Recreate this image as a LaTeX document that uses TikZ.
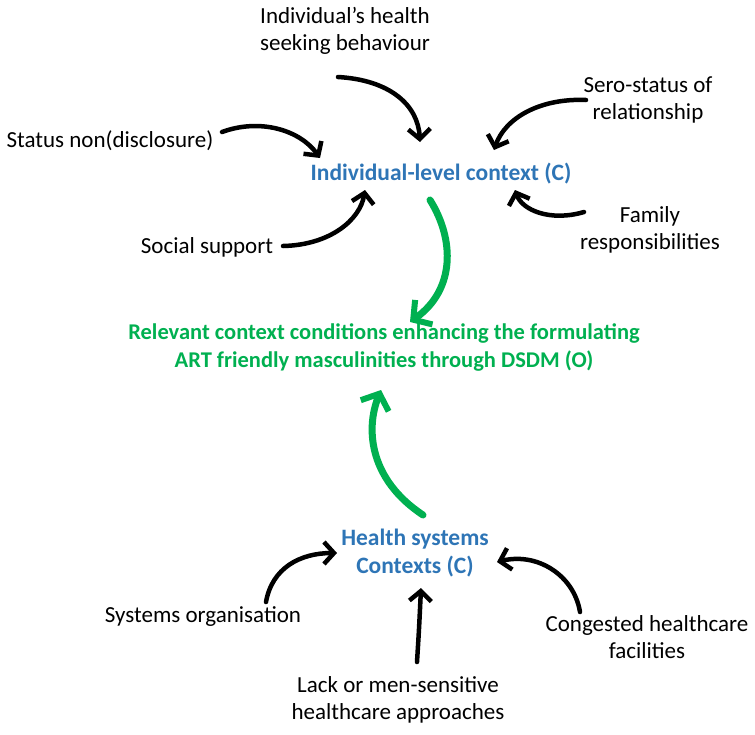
\documentclass[tikz,border=0pt]{standalone}
\usepackage{fontspec}
\setmainfont{Carlito}
\usetikzlibrary{arrows.meta}
\definecolor{ctxblue}{RGB}{46,117,182}
\definecolor{outgreen}{RGB}{0,176,80}
\begin{document}
\begin{tikzpicture}[x=1pt,y=-1pt,
    factor/.style={align=center,font=\fontsize{23}{27}\selectfont},
    ctx/.style={align=center,text=ctxblue,font=\fontsize{23.5}{28}\selectfont\bfseries},
    outcome/.style={align=center,text=outgreen,font=\fontsize{22.5}{28}\selectfont\bfseries},
    pull/.style={line width=4.5pt,line cap=round,-{Straight Barb[length=10pt,width=22pt,line width=4.5pt]}},
    push/.style={line width=7pt,draw=outgreen,line cap=round,-{Straight Barb[length=13pt,width=30pt,line width=6pt]}}]
  \useasboundingbox (0,0) rectangle (755,734);

  \begin{scope}
    \node[factor] (seek) at (345,31) {Individual’s health\\seeking behaviour};
    \node[factor] (sero) at (648,100) {Sero-status of\\relationship};
    \node[factor] (status) at (110,141) {Status non(disclosure)};
    \node[factor] (social) at (207,247) {Social support};
    \node[factor] (family) at (650,230) {Family\\responsibilities};
    \node[ctx] (ctxI) at (441,174) {Individual-level context (C)};
    \node[outcome] (outc) at (384,347) {Relevant context conditions enhancing the formulating\\ART friendly masculinities through DSDM (O)};
    \node[ctx] (ctxH) at (415,553) {Health systems\\Contexts (C)};
    \node[factor] (sysorg) at (203,617) {Systems organisation};
    \node[factor] (congest) at (647,637) {Congested healthcare\\facilities};
    \node[factor] (lack) at (398,700) {Lack or men-sensitive\\healthcare approaches};
  \end{scope}

  \begin{scope}
    \coordinate (seekE) at (420,142);
    \coordinate (seroE) at (494,150);
    \coordinate (statusE) at (320,158);
    \coordinate (socialE) at (365,190);
    \coordinate (familyE) at (515,190);
    \coordinate (sysE) at (337,553);
    \coordinate (lackE) at (421,588);
    \coordinate (congE) at (497,562);

    \draw[pull] (338,77) .. controls (390,80) and (418,105) .. (seekE);
    \draw[pull] (586,100) .. controls (540,98) and (505,118) .. (seroE);
    \draw[pull] (222,132) .. controls (260,118) and (300,130) .. (statusE);
    \draw[pull] (283,246) .. controls (330,245) and (360,220) .. (socialE);
    \draw[pull] (584,212) .. controls (550,222) and (522,210) .. (familyE);
    \draw[pull] (266,602) .. controls (272,568) and (300,553) .. (sysE);
    \draw[pull] (417,662) .. controls (419,630) .. (lackE);
    \draw[pull] (580,612) .. controls (574,575) and (537,552) .. (congE);

    \draw[push] (430,200) .. controls (455,240) and (455,290) .. (410,322);
    \draw[push] (423,515) .. controls (370,480) and (365,430) .. (381,390);
  \end{scope}
\end{tikzpicture}
\end{document}
